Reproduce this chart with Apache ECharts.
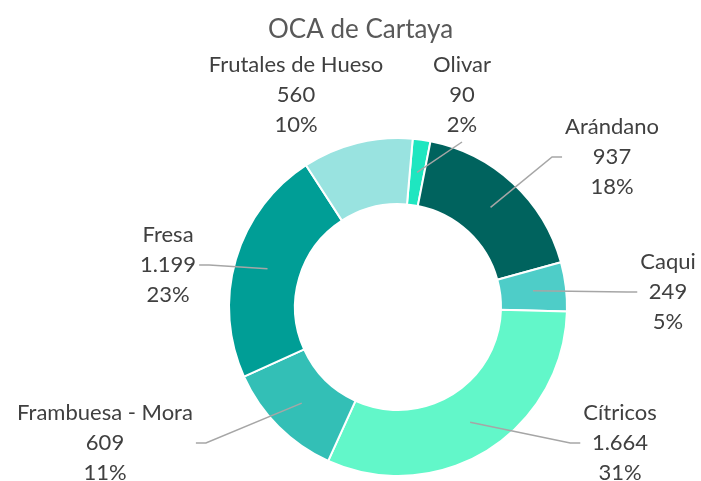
<!DOCTYPE html>
<html>
<head>
<meta charset="utf-8">
<script src="https://cdn.jsdelivr.net/npm/echarts@6/dist/echarts.min.js"></script>
<style>
  html, body { margin: 0; padding: 0; background: #fff; }
  #chart { width: 701px; height: 481px; }
</style>
</head>
<body>
<div id="chart"></div>
<script>
// datos del gráfico
const categories = ["Olivar", "Arándano", "Caqui", "Cítricos", "Frambuesa - Mora", "Fresa", "Frutales de Hueso"];
const values = [90, 937, 249, 1664, 609, 1199, 560];
// colores de cada sector
const colors = ["#1ee6c0", "#00635e", "#4ecdc8", "#62f7c9", "#33bfb6", "#009e96", "#99e3e0"];
// posición (centro) de cada etiqueta, como en el original de Excel
const labelPos = [[462, 95], [612, 157], [668, 292], [620, 443], [105, 443], [168, 265], [296, 95]];
// líneas guía visibles
const showLine = [true, true, true, true, true, true, false];

// geometría del anillo
const pieCenter = [398, 307];
const radii = [103, 169];

// separador de miles con punto
const fmt = (v) => String(v).replace(/\B(?=(\d{3})+(?!\d))/g, ".");

const chart = echarts.init(document.getElementById("chart"));
const option = {
  backgroundColor: "#fff",
  title: {
    text: "OCA de Cartaya",
    left: 263,
    top: 12,
    textStyle: {
      fontFamily: "Lato",
      fontSize: 26,
      fontWeight: "normal",
      color: "#595959",
    },
  },
  series: [
    // anillo con colores
    {
      type: "pie",
      center: pieCenter,
      radius: radii,
      startAngle: 85,
      clockwise: true,
      silent: true,
      itemStyle: {
        borderColor: "#fff",
        borderWidth: 2,
      },
      data: categories.map((name, i) => ({
        name,
        value: values[i],
        itemStyle: { color: colors[i] },
      })),
      label: { show: false },
      labelLine: { show: false },
    },
    // misma serie transparente encima, solo para etiquetas y líneas guía
    {
      type: "pie",
      z: 3,
      center: pieCenter,
      radius: radii,
      startAngle: 85,
      clockwise: true,
      silent: true,
      percentPrecision: 0,
      itemStyle: { color: "rgba(0,0,0,0)", borderWidth: 0 },
      data: categories.map((name, i) => ({
        name,
        value: values[i],
        labelLine: { show: showLine[i] },
      })),
      label: {
        show: true,
        position: "outside",
        formatter: (p) => `{a|${p.name}}\n{a|${fmt(p.value)}}\n{a|${p.percent}%}`,
        color: "#404040",
        fontFamily: "Lato",
        fontSize: 22,
        lineHeight: 30,
        rich: {
          a: { align: "center", fontFamily: "Lato", fontSize: 22, lineHeight: 30, color: "#404040" },
        },
      },
      labelLine: {
        show: true,
        length: 20,
        length2: 20,
        lineStyle: { color: "#a6a6a6", width: 1.5 },
      },
      labelLayout: (params) => {
        const pos = labelPos[params.dataIndex];
        const w = params.labelRect.width;
        const h = params.labelRect.height;
        const out = { x: pos[0], y: pos[1], align: "center", verticalAlign: "middle" };
        const pts = params.labelLinePoints;
        if (pts && pts.length) {
          // punto de inicio: en medio del anillo, como en Excel
          const dx = pts[0][0] - pieCenter[0];
          const dy = pts[0][1] - pieCenter[1];
          const d = Math.sqrt(dx * dx + dy * dy);
          const rMid = (radii[0] + radii[1]) / 2;
          const start = [pieCenter[0] + (dx / d) * rMid, pieCenter[1] + (dy / d) * rMid];
          let line;
          if (pos[1] + h / 2 < start[1] - 20 && Math.abs(start[0] - pos[0]) < w / 2 + 40) {
            // etiqueta encima del sector
            line = [start, [pos[0], pos[1] + h / 2 + 2]];
          } else {
            const side = start[0] > pos[0] ? 1 : -1;
            const end = [pos[0] + side * (w / 2 + 3), pos[1]];
            line = [start, [end[0] + side * 10, end[1]], end];
          }
          out.labelLinePoints = line;
        }
        return out;
      },
      emphasis: { disabled: true },
    },
  ],
};
chart.setOption(option);
</script>
</body>
</html>
